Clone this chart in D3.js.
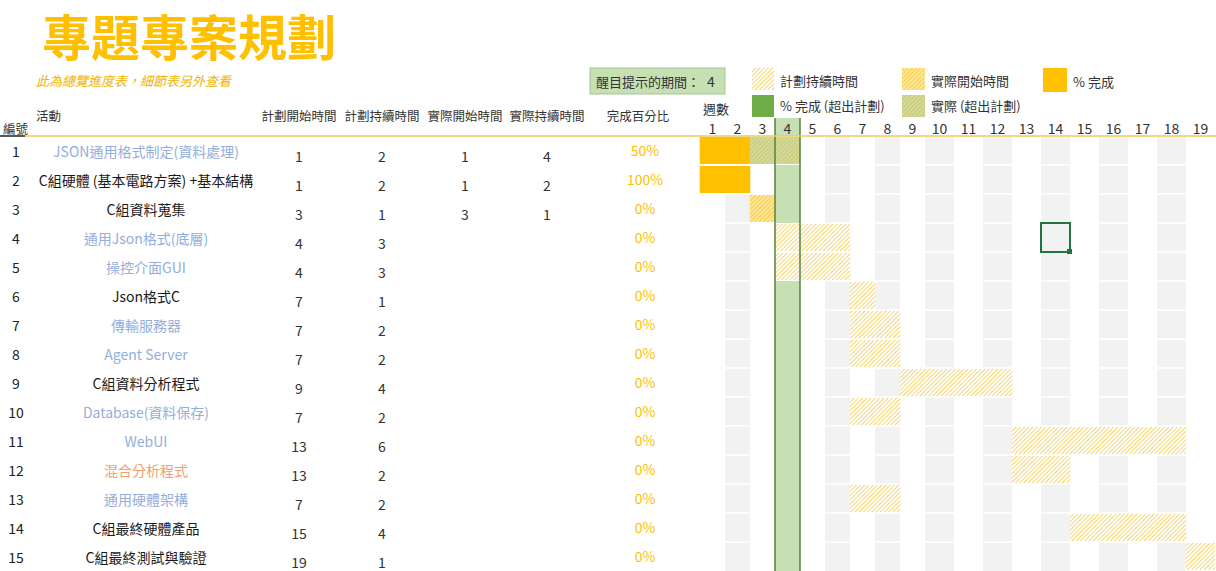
<!DOCTYPE html>
<html><head><meta charset="utf-8">
<script src="https://cdn.jsdelivr.net/npm/d3@7"></script>
<style>
html,body{margin:0;padding:0;background:#fff;}
svg{display:block;font-family:"Noto Sans CJK TC","Noto Sans",sans-serif;}
</style></head>
<body><svg id="chart" width="1216" height="571"></svg>
<script>
// ---- data ----
const title = "專題專案規劃";
const subtitle = "此為總覽進度表，細節表另外查看";
const ids = [1,2,3,4,5,6,7,8,9,10,11,12,13,14,15];
const activities = ["JSON通用格式制定(資料處理)","C組硬體 (基本電路方案) +基本結構","C組資料蒐集","通用Json格式(底層)","操控介面GUI","Json格式C","傳輸服務器","Agent Server","C組資料分析程式","Database(資料保存)","WebUI","混合分析程式","通用硬體架構","C組最終硬體產品","C組最終測試與驗證"];
const activityGroup = ["sub","main","main","sub","sub","main","sub","sub","main","sub","sub","mix","sub","main","main"];
const planStart = [1,1,3,4,4,7,7,7,9,7,13,13,7,15,19];
const planDuration = [2,2,1,3,3,1,2,2,4,2,6,2,2,4,1];
const actualStart = [1,1,3,null,null,null,null,null,null,null,null,null,null,null,null];
const actualDuration = [4,2,1,null,null,null,null,null,null,null,null,null,null,null,null];
const percentComplete = [0.5,1,0,0,0,0,0,0,0,0,0,0,0,0,0];
const weeks = [1,2,3,4,5,6,7,8,9,10,11,12,13,14,15,16,17,18,19];
const highlightPeriod = 4;
const headers = ["計劃開始時間","計劃持續時間","實際開始時間","實際持續時間"];
const legendLabels = ["計劃持續時間","實際開始時間","% 完成","% 完成 (超出計劃)","實際 (超出計劃)"];

// ---- drawing ----
const svg = d3.select("#chart");
const gold = "#FFC000";
const groupColor = {sub:"#93AEDC", main:"#1a1a1a", mix:"#F0A070"};

const defs = svg.append("defs");
function hatch(id, bg, line, gap, sw){
  const p = defs.append("pattern").attr("id", id).attr("patternUnits","userSpaceOnUse")
    .attr("width", gap).attr("height", gap).attr("patternTransform","rotate(45)");
  p.append("rect").attr("width", gap).attr("height", gap).attr("fill", bg);
  p.append("line").attr("x1",0).attr("y1",0).attr("x2",0).attr("y2",gap)
    .attr("stroke", line).attr("stroke-width", sw);
}
hatch("planH", "#ffffff", "#F2C83E", 3, 1.5);
hatch("actH", "#FFE699", "#F5C226", 3, 1.4);
hatch("actOverH", "#CFDA9E", "#CFBF58", 3, 1.4);

// scales
const x = d3.scaleLinear().domain([1, 10, 20]).range([700, 925, 1215]);
const y = d3.scaleBand().domain(ids).range([136, 571]).padding(0);
const step = y.step();

// title
svg.append("text").attr("x", 42).attr("y", 34).attr("dominant-baseline","central")
  .attr("font-size", 49).attr("font-weight", 700).attr("fill", gold).text(title);
svg.append("text").attr("x", 36).attr("y", 80).attr("dominant-baseline","central")
  .attr("font-size", 13).attr("font-style","italic").attr("fill", "#F0B400").text(subtitle);

// gantt background columns
const g = svg.append("g");
g.selectAll("rect.col").data(weeks.filter(w => w % 2 === 0)).join("rect")
  .attr("class","col").attr("x", w => x(w)).attr("width", w => x(w+1) - x(w))
  .attr("y", 137).attr("height", 571-137).attr("fill", "#F2F2F2");
// row separators
g.selectAll("line.rowsep").data(ids.slice(1)).join("line")
  .attr("x1", 700).attr("x2", 1216).attr("y1", d => y(d)).attr("y2", d => y(d))
  .attr("stroke", "#fff").attr("stroke-width", 1.5);

// cell states
function cellType(i, w){
  const inPlan = w >= planStart[i] && w < planStart[i] + planDuration[i];
  const as = actualStart[i], ad = actualDuration[i];
  const inAct = as != null && w >= as && w < as + ad;
  const inPct = as != null && w >= as && w < as + ad * percentComplete[i];
  if (inPct && !inPlan) return "pctOver";
  if (inPct) return "pct";
  if (inAct && !inPlan) return "actOver";
  if (inAct) return "act";
  if (inPlan) return "plan";
  return null;
}
const fills = {pct: gold, pctOver: "#70AD47", act: "url(#actH)", actOver: "url(#actOverH)", plan: "url(#planH)"};
const cells = [];
ids.forEach((id, i) => weeks.forEach(w => cells.push({id, w, t: cellType(i, w)})));

// highlight column (period)
g.selectAll("rect.hl").data(cells.filter(c => c.w === highlightPeriod && !c.t)).join("rect")
  .attr("class","hl").attr("x", c => x(c.w)).attr("width", c => x(c.w+1) - x(c.w))
  .attr("y", c => y(c.id)).attr("height", step).attr("fill", "#C6E0B4");
// header cell for highlighted period
svg.append("rect").attr("x", x(highlightPeriod)).attr("width", x(highlightPeriod+1) - x(highlightPeriod))
  .attr("y", 118).attr("height", 18).attr("fill", "#C6E0B4");

// bars
const barCells = cells.filter(c => c.t);
g.selectAll("rect.bg").data(barCells).join("rect")
  .attr("x", c => x(c.w)).attr("width", c => x(c.w+1) - x(c.w))
  .attr("y", c => y(c.id) + 1).attr("height", step - 2).attr("fill", "#fff");
g.selectAll("rect.bar").data(barCells).join("rect")
  .attr("class","bar").attr("x", c => x(c.w) - 0.3).attr("width", c => x(c.w+1) - x(c.w) + 0.6)
  .attr("y", c => y(c.id) + 1).attr("height", step - 2).attr("fill", c => fills[c.t]);

// period lines
[highlightPeriod, highlightPeriod + 1].forEach(w => {
  svg.append("line").attr("x1", x(w)).attr("x2", x(w)).attr("y1", 118).attr("y2", 571)
    .attr("stroke", "#4E7A34").attr("stroke-width", 1.4);
});

// header rule
svg.append("line").attr("x1", 0).attr("x2", 25).attr("y1", 136).attr("y2", 136).attr("stroke", "#222").attr("stroke-width", 1.5);
svg.append("line").attr("x1", 25).attr("x2", 1216).attr("y1", 136).attr("y2", 136).attr("stroke", "#EDCB57").attr("stroke-width", 1.5);

// selected cell (Excel selection)
svg.append("rect").attr("x", x(14)).attr("y", y(4)).attr("width", x(15) - x(14)).attr("height", step)
  .attr("fill","none").attr("stroke","#217346").attr("stroke-width", 2);
svg.append("rect").attr("x", x(15) - 3).attr("y", y(4) + step - 3).attr("width", 5).attr("height", 5).attr("fill","#217346");

// week header
svg.append("text").attr("x", 703).attr("y", 108).attr("dominant-baseline","central")
  .attr("font-size", 13).attr("fill", "#333").text("週數");
svg.selectAll("text.wk").data(weeks).join("text").attr("class","wk")
  .attr("x", w => (x(w) + x(w+1)) / 2).attr("y", 128).attr("text-anchor","middle")
  .attr("dominant-baseline","central").attr("font-size", 14).attr("fill", "#333").text(w => w);

// table headers
const hdr = svg.append("g").attr("font-size", 12.5).attr("fill", "#333");
hdr.append("text").attr("x", 3).attr("y", 128).attr("dominant-baseline","central").text("編號");
hdr.append("text").attr("x", 36).attr("y", 115).attr("dominant-baseline","central").text("活動");
const colX = [299, 382, 465, 547];
headers.forEach((h, k) => hdr.append("text").attr("x", colX[k]).attr("y", 115)
  .attr("text-anchor","middle").attr("dominant-baseline","central").text(h));
hdr.append("text").attr("x", 638).attr("y", 115).attr("text-anchor","middle").attr("dominant-baseline","central").text("完成百分比");

// table rows
const rows = svg.append("g").attr("font-size", 14);
rows.selectAll("text.id").data(ids).join("text").attr("x", 16).attr("y", d => y(d) + 14.5)
  .attr("text-anchor","middle").attr("dominant-baseline","central").attr("fill", "#222").text(d => d);
rows.selectAll("text.act").data(ids).join("text").attr("x", 146).attr("y", d => y(d) + 14.5)
  .attr("text-anchor","middle").attr("dominant-baseline","central")
  .attr("fill", (d, i) => groupColor[activityGroup[i]]).text((d, i) => activities[i]);
const numCols = [planStart, planDuration, actualStart, actualDuration];
numCols.forEach((arr, k) => {
  rows.append("g").selectAll("text").data(ids).join("text")
    .attr("x", colX[k]).attr("y", d => y(d) + 20).attr("text-anchor","middle")
    .attr("dominant-baseline","central").attr("fill", "#333")
    .text((d, i) => arr[i] == null ? "" : arr[i]);
});
rows.selectAll("text.pct").data(ids).join("text").attr("x", 645).attr("y", d => y(d) + 13.5)
  .attr("text-anchor","middle").attr("dominant-baseline","central").attr("fill", gold)
  .text((d, i) => Math.round(percentComplete[i] * 100) + "%");

// legend
const lg = svg.append("g").attr("font-size", 13).attr("fill", "#333");
lg.append("rect").attr("x", 590).attr("y", 68).attr("width", 135).attr("height", 26)
  .attr("fill", "#C6E0B4").attr("stroke", "#A8C49A").attr("stroke-width", 1);
lg.append("text").attr("x", 596).attr("y", 81).attr("dominant-baseline","central").text("醒目提示的期間：");
lg.append("text").attr("x", 711).attr("y", 81).attr("text-anchor","middle").attr("dominant-baseline","central").attr("font-size", 14).text(highlightPeriod);
const legendItems = [
  {x: 752, y: 68, w: 22, h: 22, fill: "url(#planH)", label: legendLabels[0], ty: 80},
  {x: 902, y: 68, w: 23, h: 22, fill: "url(#actH)", label: legendLabels[1], ty: 80},
  {x: 1043, y: 68, w: 24, h: 24, fill: gold, label: legendLabels[2], ty: 81},
  {x: 752, y: 95, w: 22, h: 22, fill: "#70AD47", label: legendLabels[3], ty: 105},
  {x: 902, y: 95, w: 23, h: 22, fill: "url(#actOverH)", label: legendLabels[4], ty: 105}
];
legendItems.forEach(it => {
  lg.append("rect").attr("x", it.x).attr("y", it.y).attr("width", it.w).attr("height", it.h).attr("fill", it.fill);
  lg.append("text").attr("x", it.x + it.w + 6).attr("y", it.ty).attr("dominant-baseline","central").text(it.label);
});
</script></body></html>
